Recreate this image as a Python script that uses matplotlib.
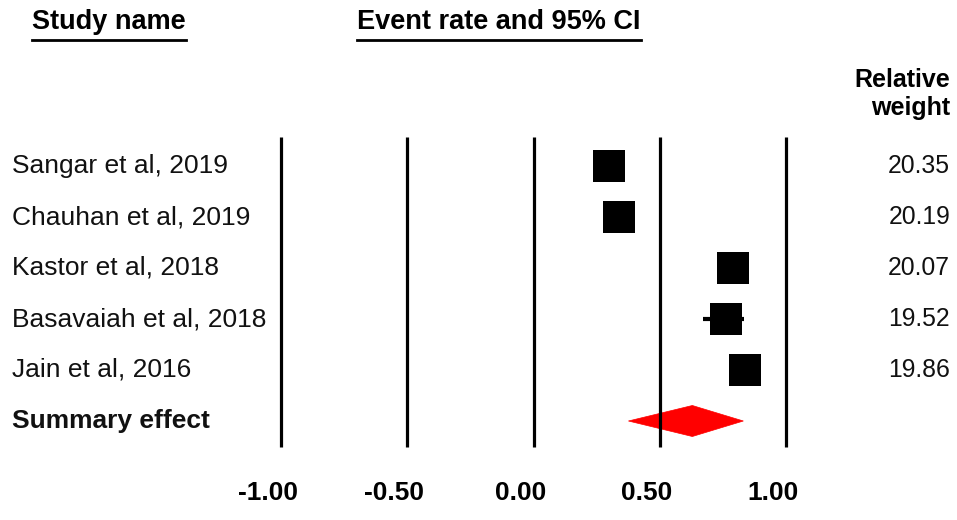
import matplotlib
matplotlib.use("Agg")
import matplotlib.pyplot as plt
from matplotlib.patches import Polygon
from matplotlib import transforms

plt.rcParams['font.family'] = ['Liberation Sans', 'DejaVu Sans']

studies = ["Sangar et al, 2019", "Chauhan et al, 2019", "Kastor et al, 2018",
           "Basavaiah et al, 2018", "Jain et al, 2016"]
event_rate = [0.297, 0.336, 0.790, 0.763, 0.836]
ci_lower = [0.27, 0.31, 0.76, 0.669, 0.81]
ci_upper = [0.33, 0.36, 0.82, 0.834, 0.86]
weights = ["20.35", "20.19", "20.07", "19.52", "19.86"]
summary_label = "Summary effect"
summary_rate = 0.628
summary_lower = 0.375
summary_upper = 0.830
ticks = [-1.0, -0.5, 0.0, 0.5, 1.0]
tick_labels = ["-1.00", "-0.50", "0.00", "0.50", "1.00"]

W, H = 957, 520
fig = plt.figure(figsize=(W / 100, H / 100), dpi=100)
ax = fig.add_axes([0, 0, 1, 1])
ax.axis('off')
# pixel mapping: x_px = 533.7 + 252.6 * v
x0, scale = 533.7, 252.6
ax.set_xlim(-x0 / scale, (W - x0) / scale)
ax.set_ylim(H, 0)

row_y = [166 + 51 * i for i in range(len(studies))]
sum_y = 166 + 51 * len(studies)

# vertical reference lines
ax.vlines(ticks, 137, 447, colors='black', linewidth=2.3)

# study markers
for i in range(len(studies)):
    ax.plot([ci_lower[i], ci_upper[i]], [row_y[i], row_y[i]], color='black', linewidth=3,
            solid_capstyle='butt')
ax.plot(event_rate, row_y, linestyle='none', marker='s', markersize=22.5,
        markerfacecolor='black', markeredgewidth=0)

# summary diamond
half_h = 15.5
diamond = Polygon([[summary_lower, sum_y], [summary_rate, sum_y - half_h],
                   [summary_upper, sum_y], [summary_rate, sum_y + half_h]],
                  closed=True, facecolor='red', edgecolor='red', linewidth=0.5)
ax.add_patch(diamond)

# x in figure pixels, y in data (pixel rows)
px = transforms.blended_transform_factory(
    transforms.Affine2D().scale(1.0 / W) + ax.transAxes, ax.transData)

# study names and weights
for i, name in enumerate(studies):
    ax.text(12, row_y[i], name, transform=px, fontsize=19,
            ha='left', va='center', color='#111111')
    ax.text(950, row_y[i], weights[i], transform=px, fontsize=17.8,
            ha='right', va='center', color='#111111')
ax.text(12, sum_y, summary_label, transform=px, fontsize=19, fontweight='bold',
        ha='left', va='center', color='#111111')

# headers
ax.text(32, 22, "Study name", fontsize=19.5, fontweight='bold', ha='left', va='center',
        transform=px)
ax.text(357, 22, "Event rate and 95% CI", fontsize=19.5, fontweight='bold', ha='left',
        va='center', transform=px)
ax.plot([32, 186], [40, 40], color='black', linewidth=2, transform=px)
ax.plot([357, 641], [40, 40], color='black', linewidth=2, transform=px)
ax.text(950, 80, "Relative", fontsize=18, fontweight='bold', ha='right', va='center',
        transform=px)
ax.text(950, 108, "weight", fontsize=18, fontweight='bold', ha='right', va='center',
        transform=px)

# tick labels
offset = transforms.offset_copy(ax.transData, fig=fig, x=-13, y=0, units='dots')
for t, lab in zip(ticks, tick_labels):
    ax.text(t, 493, lab, fontsize=19, fontweight='bold', ha='center', va='center',
            transform=offset)

fig.savefig("out.png", dpi=100)
